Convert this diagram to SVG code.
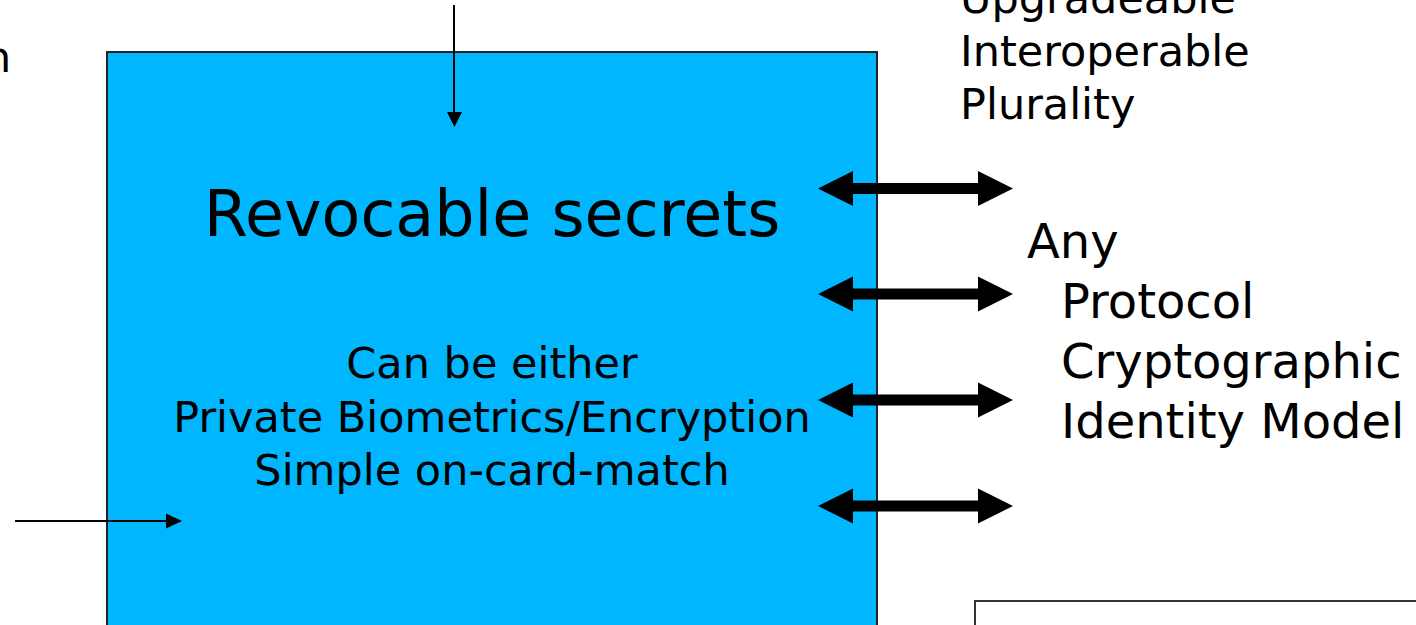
<svg xmlns="http://www.w3.org/2000/svg" width="1416" height="625" viewBox="0 0 1416 625">
<style>
text{font-family:"DejaVu Sans","Verdana",sans-serif;fill:#000}
.m{font-size:43px}
.r{font-size:48px}
.t{font-size:63.5px}
.thin{stroke:#000;stroke-width:2;fill:none}
</style>
<defs>
<path id="dbl" d="M818,0 L853,-17.5 L853,-5.5 L978,-5.5 L978,-17.5 L1013,0 L978,17.5 L978,5.5 L853,5.5 L853,17.5 Z" fill="#000"/>
</defs>
<rect width="1416" height="625" fill="#fff"/>
<g id="leftlabel"><text class="m" x="-16" y="72">n</text></g>
<g id="card">
<rect x="107" y="52" width="770" height="600" fill="#00B6FF" stroke="#222" stroke-width="2"/>
<text class="t" x="492" y="236" text-anchor="middle">Revocable secrets</text>
<text class="m" x="492" y="378" text-anchor="middle">Can be either</text>
<text class="m" x="492" y="432" text-anchor="middle">Private Biometrics/Encryption</text>
<text class="m" x="492" y="485" text-anchor="middle">Simple on-card-match</text>
</g>
<g id="qualities">
<text class="m" x="960" y="13">Upgradeable</text>
<text class="m" x="960" y="66">Interoperable</text>
<text class="m" x="960" y="119">Plurality</text>
</g>
<g id="anylist">
<text class="r" x="1027" y="258">Any</text>
<text class="r" x="1061" y="318">Protocol</text>
<text class="r" x="1061" y="378">Cryptographic</text>
<text class="r" x="1061" y="438">Identity Model</text>
</g>
<g id="lowerbox"><rect x="975" y="601" width="460" height="60" fill="#fff" stroke="#333" stroke-width="2"/></g>
<g id="connectors">
<line class="thin" x1="454" y1="5" x2="454" y2="114"/>
<polygon points="447,112 462,112 454.5,127" fill="#000"/>
<line class="thin" x1="15" y1="521" x2="168" y2="521"/>
<polygon points="166,513.5 166,528.5 182,521" fill="#000"/>
<use href="#dbl" y="188.5"/>
<use href="#dbl" y="294"/>
<use href="#dbl" y="400"/>
<use href="#dbl" y="506"/>
</g>
</svg>
